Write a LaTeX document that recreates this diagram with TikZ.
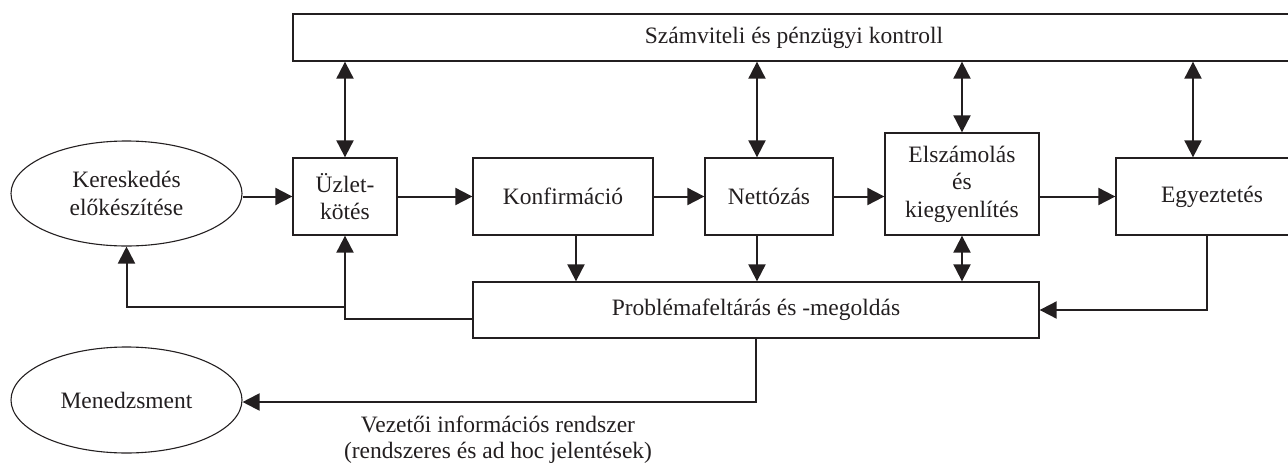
\documentclass[tikz,border=0pt]{standalone}
\usepackage{fontspec}
\setmainfont{Liberation Serif}
\usetikzlibrary{arrows.meta,shapes.geometric}
\definecolor{ink}{HTML}{231F20}
\tikzset{
  box/.style={draw=ink, line width=1.3pt, rectangle, inner sep=0pt, align=center, text=ink},
  oval/.style={draw=ink, line width=1.1pt, ellipse, inner sep=0pt, align=center, text=ink},
  arr/.style={draw=ink, line width=2pt, -{Triangle[length=17pt,width=17pt]}},
  arrb/.style={draw=ink, line width=2pt, {Triangle[length=17pt,width=17pt]}-{Triangle[length=17pt,width=17pt]}},
  lbl/.style={align=center, text=ink, inner sep=0pt, font=\fontsize{23.5}{26}\selectfont}
}
\begin{document}
\begin{tikzpicture}[x=1pt,y=-1pt,font=\fontsize{23.5}{27.5}\selectfont]
\useasboundingbox (0,0) rectangle (1288,466);
\clip (0,0) rectangle (1288,466);
\node[box, minimum width=1002pt, minimum height=47pt] (top) at (794,37.5) {Számviteli és pénzügyi kontroll};
\node[oval, minimum width=231pt, minimum height=105pt] (ell1) at (126.5,193.5) {Kereskedés\\előkészítése};
\node[box, minimum width=104pt, minimum height=77pt] (uz) at (345,196.5) {Üzlet-\\kötés};
\node[box, minimum width=180pt, minimum height=77pt] (konf) at (563,196.5) {Konfirmáció};
\node[box, minimum width=128pt, minimum height=77pt] (nett) at (769,196.5) {Nettózás};
\node[box, minimum width=154pt, minimum height=102pt] (elsz) at (962,184) {Elszámolás\\és\\kiegyenlítés};
\node[box, minimum width=192pt, minimum height=77pt] (egy) at (1212,196.5) {Egyeztetés};
\node[box, minimum width=566pt, minimum height=56pt] (prob) at (756,310) {Problémafeltárás és -megoldás};
\node[oval, minimum width=231pt, minimum height=106pt] (men) at (126.5,400) {Menedzsment};
\node[lbl] (info) at (498,440) {Vezetői információs rendszer\\(rendszeres és ad hoc jelentések)};
% anchor points
\coordinate (nettN) at ([xshift=-12pt]nett.north);
\coordinate (nettS) at ([xshift=-12pt]nett.south);
\coordinate (egyN) at ([xshift=-19pt]egy.north);
\coordinate (egyS) at ([xshift=-5pt]egy.south);
\coordinate (konfS) at ([xshift=13pt]konf.south);
\coordinate (probW) at ([yshift=-9pt]prob.west);
\coordinate (menE) at ([yshift=-2pt]men.east);
\coordinate (br) at (345,307);
% horizontal flow
\draw[arr] (ell1.east |- uz.west) -- (uz.west);
\draw[arr] (uz.east) -- (konf.west);
\draw[arr] (konf.east) -- (nett.west);
\draw[arr] (nett.east) -- (elsz.west |- nett.east);
\draw[arr] (elsz.east |- egy.west) -- (egy.west);
% top control links
\draw[arrb] (top.south -| uz.north) -- (uz.north);
\draw[arrb] (top.south -| nettN) -- (nettN);
\draw[arrb] (top.south -| elsz.north) -- (elsz.north);
\draw[arrb] (top.south -| egyN) -- (egyN);
% down to problem box
\draw[arr] (konfS) -- (prob.north -| konfS);
\draw[arr] (nettS) -- (prob.north -| nettS);
\draw[arrb] (elsz.south) -- (prob.north -| elsz.south);
\draw[arr] (egyS) |- (prob.east);
% feedback
\draw[arr] (probW) -| (uz.south);
\draw[arr] (br) -| (ell1.south);
\draw[arr] (prob.south) |- (menE);
\end{tikzpicture}
\end{document}
